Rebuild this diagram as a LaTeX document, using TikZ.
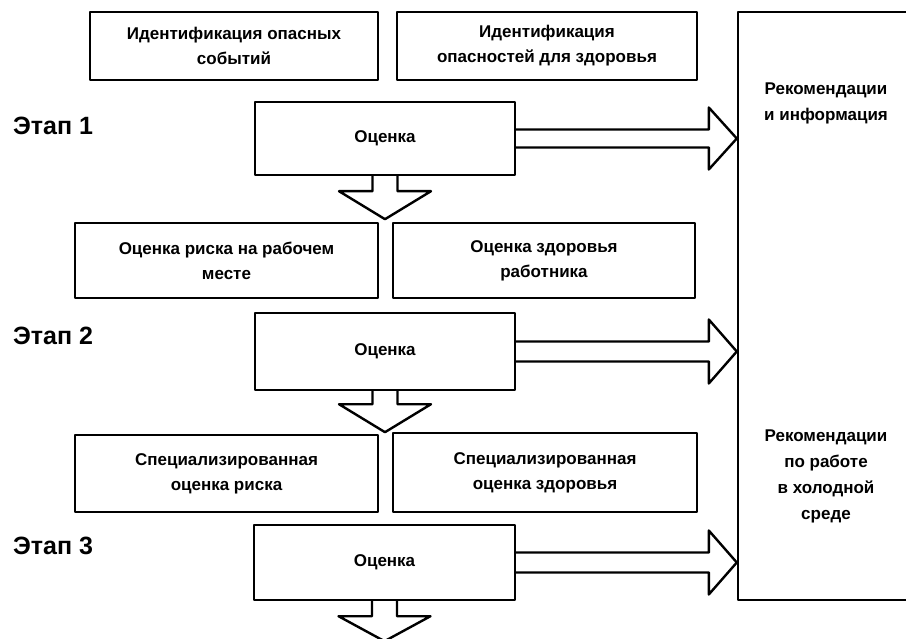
\documentclass[tikz,border=0pt]{standalone}
\usepackage{fontspec}
\setmainfont{Liberation Sans}
\usetikzlibrary{calc}

\tikzset{
  box/.style={draw, line width=2.4pt, align=center, inner sep=0pt,
    font=\fontsize{17}{25}\selectfont\bfseries},
  boxtext/.style={align=center, inner sep=0pt, font=\fontsize{17}{26}\selectfont\bfseries},
  blockarrow/.style={draw, line width=2.4pt},
  stage/.style={anchor=west, inner sep=0pt, font=\fontsize{25}{28}\selectfont\bfseries}
}

\begin{document}
\begin{tikzpicture}[line cap=round,line join=round,x=1pt,y=-1pt]
\useasboundingbox (0,0) rectangle (906,639);
\clip (0,0) rectangle (906,639);

% top row
\node[box, minimum width=288pt, minimum height=68pt] (hazev) at (234,46) {Идентификация опасных\\событий};
\node[box, minimum width=300pt, minimum height=68pt] (hazhl) at (547,46) {Идентификация\\опасностей для здоровья};

% right column
\node[box, minimum width=178pt, minimum height=588pt] (rec) at (827,306) {};
\node[boxtext] (recinfo) at (826,103) {Рекомендации\\и информация};
\node[boxtext] (reccold) at (826,476) {Рекомендации\\по работе\\в холодной\\среде};

% stage 1
\node[stage] (st1) at (13,126) {Этап 1};
\node[box, minimum width=260pt, minimum height=73pt] (eval1) at (385,138.5) {Оценка};

% stage 2
\node[box, minimum width=303pt, minimum height=75pt] (wprisk) at (226.5,260.5) {Оценка риска на рабочем\\месте};
\node[box, minimum width=302pt, minimum height=75pt] (wkhl) at (544,260.5) {Оценка здоровья\\работника};
\node[stage] (st2) at (13,336) {Этап 2};
\node[box, minimum width=260pt, minimum height=77pt] (eval2) at (385,351.5) {Оценка};

% stage 3
\node[box, minimum width=303pt, minimum height=77pt] (sprisk) at (226.5,473.5) {Специализированная\\оценка риска};
\node[box, minimum width=304pt, minimum height=79pt] (sphl) at (545,472.5) {Специализированная\\оценка здоровья};
\node[stage] (st3) at (13,546) {Этап 3};
\node[box, minimum width=261pt, minimum height=75pt] (eval3) at (384.5,562.5) {Оценка};

% arrows to the right column
\coordinate (t1) at (eval1.east -| rec.west);
\coordinate (t2) at (eval2.east -| rec.west);
\coordinate (t3) at (eval3.east -| rec.west);
\draw[blockarrow] ($(eval1.east)+(0,-9)$) -- ($(t1)+(-28,-9)$) -- ($(t1)+(-28,-31)$) -- (t1)
  -- ($(t1)+(-28,31)$) -- ($(t1)+(-28,9)$) -- ($(eval1.east)+(0,9)$);
\draw[blockarrow] ($(eval2.east)+(0,-10)$) -- ($(t2)+(-28,-10)$) -- ($(t2)+(-28,-32)$) -- (t2)
  -- ($(t2)+(-28,32)$) -- ($(t2)+(-28,10)$) -- ($(eval2.east)+(0,10)$);
\draw[blockarrow] ($(eval3.east)+(0,-10)$) -- ($(t3)+(-28,-10)$) -- ($(t3)+(-28,-32)$) -- (t3)
  -- ($(t3)+(-28,32)$) -- ($(t3)+(-28,10)$) -- ($(eval3.east)+(0,10)$);

% arrows down
\coordinate (d1) at ($(eval1.south)+(0,43)$);
\coordinate (d2) at ($(eval2.south)+(0,41)$);
\coordinate (d3) at ($(eval3.south)+(0,40)$);
\draw[blockarrow] ($(eval1.south)+(-12.5,0)$) -- ($(d1)+(-12.5,-28)$) -- ($(d1)+(-46,-28)$) -- (d1)
  -- ($(d1)+(46,-28)$) -- ($(d1)+(12.5,-28)$) -- ($(eval1.south)+(12.5,0)$);
\draw[blockarrow] ($(eval2.south)+(-12.5,0)$) -- ($(d2)+(-12.5,-28)$) -- ($(d2)+(-46,-28)$) -- (d2)
  -- ($(d2)+(46,-28)$) -- ($(d2)+(12.5,-28)$) -- ($(eval2.south)+(12.5,0)$);
\draw[blockarrow] ($(eval3.south)+(-12.5,0)$) -- ($(d3)+(-12.5,-25)$) -- ($(d3)+(-46,-25)$) -- (d3)
  -- ($(d3)+(46,-25)$) -- ($(d3)+(12.5,-25)$) -- ($(eval3.south)+(12.5,0)$);

\end{tikzpicture}
\end{document}
